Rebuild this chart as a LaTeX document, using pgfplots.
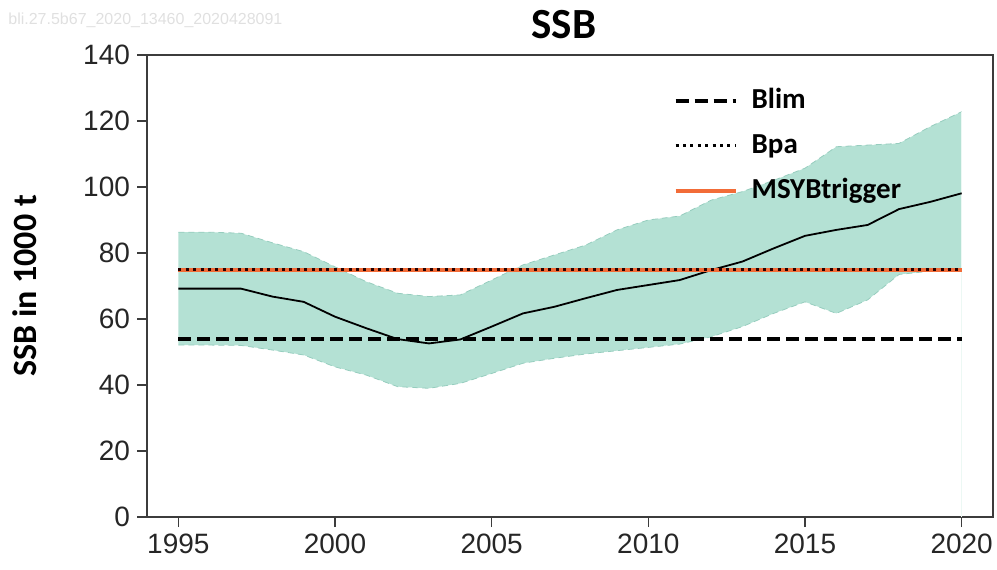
\documentclass[border=0pt]{standalone}
\usepackage{pgfplots}
\usepackage{pgfplotstable}
\pgfplotsset{compat=1.18}
\usepgfplotslibrary{fillbetween}
\usepackage{fontspec}
\setmainfont{Liberation Sans}
\newfontfamily\carlito{Carlito}
\definecolor{bandcol}{RGB}{180,225,212}
\definecolor{bandedge}{RGB}{150,205,190}
\definecolor{msyorange}{RGB}{242,108,56}
\definecolor{axisgray}{RGB}{60,60,60}

\pgfplotstableread{
year ssb low high
1995 69.2 52.1 86.3
1996 69.2 52.1 86.3
1997 69.2 52.0 86.0
1998 66.8 50.6 83.1
1999 65.2 49.1 80.4
2000 60.7 45.5 75.8
2001 57.2 43.0 71.3
2002 53.9 39.5 67.8
2003 52.6 39.0 66.8
2004 53.8 40.5 67.3
2005 57.7 43.5 71.8
2006 61.7 46.6 76.4
2007 63.7 48.1 79.4
2008 66.3 49.4 82.4
2009 68.8 50.4 87.0
2010 70.3 51.4 90.0
2011 71.8 52.4 91.2
2012 74.8 54.6 96.0
2013 77.4 57.7 98.6
2014 81.4 61.7 102.0
2015 85.2 65.2 105.7
2016 87.0 61.7 112.2
2017 88.5 65.8 112.7
2018 93.3 73.5 113.2
2019 95.5 74.5 118.3
2020 98.1 75.0 122.8
}\ssbdata

\begin{document}
\begin{tikzpicture}
\begin{axis}[
  scale only axis,
  width=423pt, height=231pt,
  xmin=1994, xmax=2021,
  ymin=0, ymax=140,
  xtick={1995,2000,2005,2010,2015,2020},
  ytick={0,20,40,60,80,100,120,140},
  tick align=outside,
  major tick length=5pt,
  xtick pos=bottom, ytick pos=left,
  axis line style={axisgray, line width=1pt},
  tick style={axisgray, line width=0.8pt},
  /pgf/number format/assume math mode=true,
  /pgf/number format/1000 sep={},
  tick label style={font=\fontsize{14}{14}\selectfont, text=black!85},
  title={\carlito\bfseries SSB},
  title style={at={(0.5,1)}, anchor=base, yshift=2.5pt, xshift=-3pt, font=\fontsize{21.5}{21.5}\selectfont},
  ylabel={\carlito\bfseries SSB in 1000 t},
  ylabel style={at={(axis description cs:-0.1442,0.5)}, anchor=center, font=\fontsize{17}{17}\selectfont},
  legend style={draw=none, fill=none, at={(axis description cs:0.615,0.95)}, anchor=north west,
    font=\carlito\bfseries\fontsize{14.5}{14.5}\selectfont,
    row sep=4.5pt, column sep=5pt,
    nodes={text height=11pt, text depth=3pt, inner sep=2pt}},
  legend cell align=left,
  legend image code/.code={\draw[#1] (0pt,0pt) -- (30pt,0pt);},
  clip=false,
]
\addplot[name path=up, draw=bandedge, densely dashed, line width=0.4pt, forget plot] table[x=year, y=high] {\ssbdata};
\addplot[name path=lo, draw=bandedge, densely dashed, line width=0.4pt, forget plot] table[x=year, y=low] {\ssbdata};
\addplot[fill=bandcol, draw=none, forget plot] fill between[of=up and lo];
\addplot[color=bandcol!25, line width=0.5pt, forget plot] coordinates {(2020,0) (2020,122.8)};
\addplot[black, line width=0.9pt, forget plot] table[x=year, y=ssb] {\ssbdata};
\addplot[black, line width=2pt, dash pattern=on 6.5pt off 3pt, forget plot] coordinates {(1995,54) (2020,54)};
\addplot[msyorange, line width=2pt, forget plot] coordinates {(1995,75) (2020,75)};
\addplot[black!85!red, line width=1.5pt, dash pattern=on 1.5pt off 2.2pt, forget plot] coordinates {(1995,75) (2020,75)};
\addlegendimage{black, line width=2pt, dash pattern=on 6.5pt off 3pt}
\addlegendentry{Blim}
\addlegendimage{black, line width=1.5pt, dash pattern=on 1.5pt off 2.2pt}
\addlegendentry{Bpa}
\addlegendimage{msyorange, line width=2pt}
\addlegendentry{MSYBtrigger}
\end{axis}
\node[anchor=west, text=black!12, font=\fontsize{8}{8}\selectfont, inner sep=0pt] at ([shift={(-69.5pt,17.5pt)}]current axis.north west) {bli.27.5b67\_2020\_13460\_2020428091};
\pgfresetboundingbox
\path[use as bounding box] ([shift={(-73.5pt,-26pt)}]current axis.south west) rectangle ([shift={(2pt,27.5pt)}]current axis.north east);
\end{tikzpicture}
\end{document}
